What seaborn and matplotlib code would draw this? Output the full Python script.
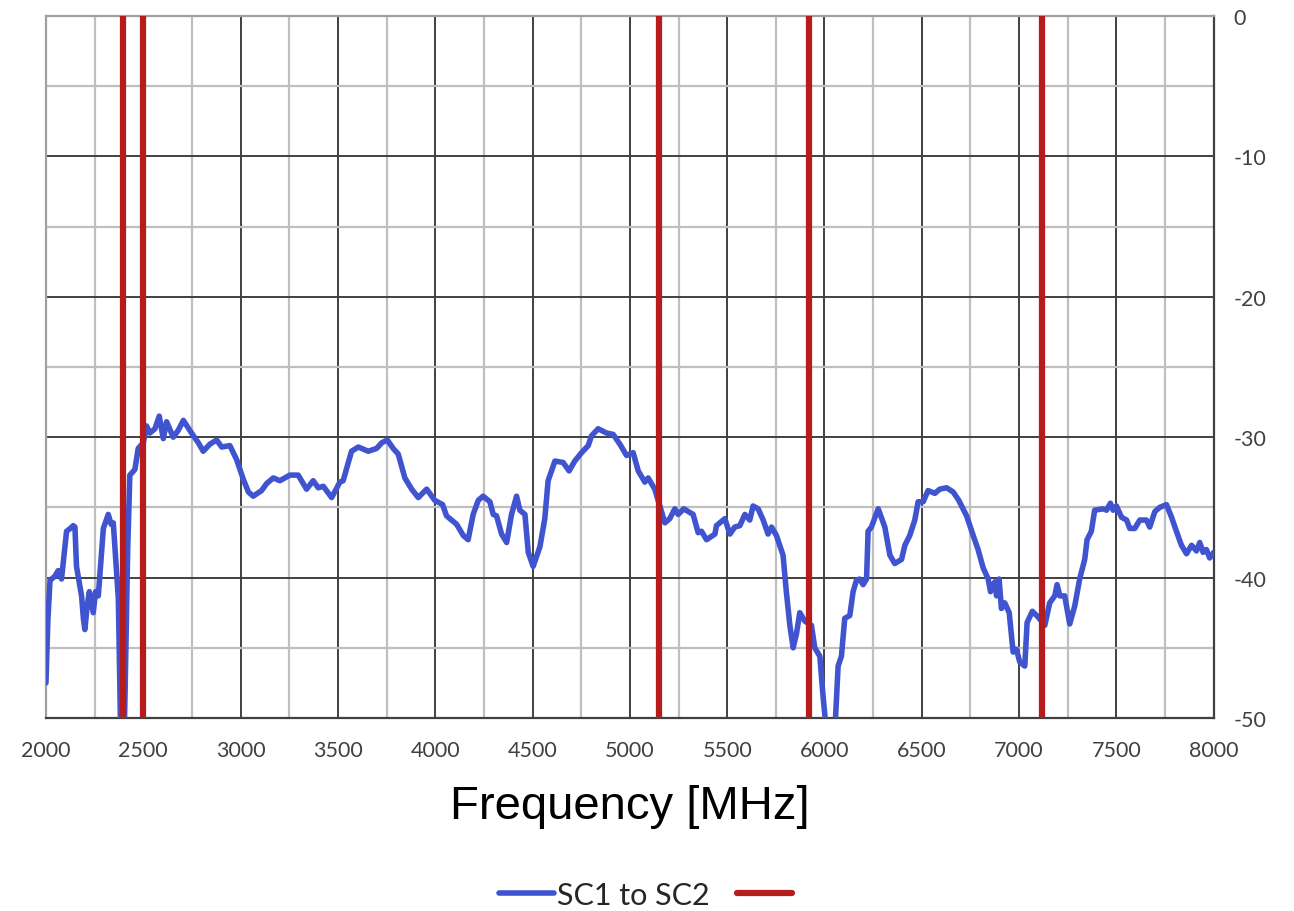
import matplotlib
matplotlib.use('Agg')
import matplotlib.pyplot as plt
import seaborn as sns
import pandas as pd
from matplotlib.ticker import MultipleLocator

# values
freq_mhz = [2000, 2010, 2021, 2046, 2063, 2080, 2106, 2125, 2140, 2149, 2157, 2183, 2193, 2200,
            2212, 2223, 2243, 2255, 2269, 2295, 2320, 2335, 2346, 2372, 2385, 2395, 2406, 2420,
            2431, 2457, 2474, 2500, 2517, 2534, 2560, 2582, 2603, 2620, 2654, 2680, 2706, 2748,
            2783, 2808, 2842, 2877, 2903, 2945, 2980, 3014, 3040, 3065, 3108, 3134, 3168, 3202,
            3253, 3296, 3339, 3373, 3399, 3425, 3468, 3510, 3527, 3570, 3605, 3656, 3699, 3725,
            3754, 3784, 3810, 3844, 3879, 3913, 3956, 3998, 4038, 4058, 4110, 4144, 4169, 4195,
            4221, 4246, 4281, 4298, 4315, 4341, 4367, 4392, 4418, 4435, 4461, 4478, 4503, 4538,
            4563, 4580, 4615, 4657, 4688, 4717, 4752, 4786, 4803, 4837, 4880, 4914, 4949, 4983,
            5017, 5043, 5077, 5094, 5128, 5154, 5180, 5205, 5231, 5248, 5277, 5325, 5351, 5368,
            5394, 5437, 5445, 5488, 5514, 5539, 5565, 5591, 5616, 5633, 5659, 5685, 5710, 5728,
            5753, 5787, 5804, 5822, 5839, 5856, 5873, 5899, 5933, 5950, 5976, 5993, 6010, 6030,
            6053, 6070, 6087, 6104, 6130, 6147, 6164, 6181, 6198, 6216, 6224, 6241, 6276, 6310,
            6336, 6361, 6396, 6413, 6438, 6464, 6481, 6507, 6532, 6567, 6592, 6627, 6661, 6690,
            6730, 6764, 6789, 6815, 6841, 6853, 6875, 6884, 6897, 6909, 6926, 6949, 6969, 6986,
            7003, 7029, 7041, 7068, 7097, 7132, 7157, 7183, 7195, 7209, 7234, 7260, 7286, 7311,
            7337, 7349, 7371, 7388, 7431, 7449, 7469, 7483, 7500, 7526, 7552, 7569, 7594, 7620,
            7654, 7671, 7697, 7722, 7757, 7783, 7808, 7834, 7860, 7886, 7911, 7928, 7945, 7962,
            7979, 8000]
sc1_to_sc2 = [-47.5, -43.0, -40.2, -39.9, -39.5, -40.1, -36.7, -36.5, -36.3, -36.4, -39.2, -41.3, -43.0, -43.7,
              -42.0, -41.0, -42.5, -41.0, -41.3, -36.5, -35.5, -36.2, -36.1, -41.5, -52.0, -56.0, -48.6, -38.0,
              -32.7, -32.3, -30.8, -30.4, -29.2, -29.7, -29.4, -28.5, -30.1, -28.9, -30.0, -29.5, -28.8, -29.7,
              -30.4, -31.0, -30.5, -30.2, -30.7, -30.6, -31.6, -33.0, -33.9, -34.2, -33.8, -33.3, -32.9, -33.1,
              -32.7, -32.7, -33.7, -33.1, -33.6, -33.5, -34.3, -33.2, -33.1, -31.0, -30.7, -31.0, -30.8, -30.4,
              -30.2, -30.8, -31.2, -32.9, -33.7, -34.3, -33.7, -34.5, -34.8, -35.6, -36.2, -37.0, -37.3, -35.5,
              -34.5, -34.2, -34.6, -35.5, -35.6, -36.9, -37.5, -35.5, -34.2, -35.2, -35.5, -38.2, -39.2, -37.8,
              -35.8, -33.1, -31.7, -31.8, -32.4, -31.7, -31.1, -30.6, -29.9, -29.4, -29.7, -29.8, -30.5, -31.3,
              -31.1, -32.4, -33.2, -32.9, -33.7, -34.9, -36.1, -35.8, -35.1, -35.5, -35.1, -35.5, -36.8, -36.7,
              -37.3, -36.9, -36.3, -35.8, -36.9, -36.4, -36.3, -35.5, -35.9, -34.9, -35.1, -35.9, -36.9, -36.4,
              -37.0, -38.4, -41.0, -43.4, -45.0, -44.0, -42.5, -43.1, -43.4, -45.0, -45.6, -48.5, -51.0, -52.0,
              -51.0, -46.3, -45.6, -42.9, -42.7, -41.0, -40.2, -40.1, -40.5, -40.1, -36.7, -36.4, -35.1, -36.4,
              -38.4, -39.0, -38.7, -37.7, -37.0, -35.9, -34.6, -34.6, -33.8, -34.0, -33.7, -33.6, -33.9, -34.5,
              -35.6, -37.0, -38.0, -39.3, -40.1, -41.0, -40.3, -41.3, -40.1, -42.2, -41.8, -42.5, -45.3, -45.1,
              -46.0, -46.3, -43.2, -42.4, -42.8, -43.4, -41.8, -41.3, -40.5, -41.3, -41.3, -43.3, -42.0, -40.1,
              -38.7, -37.3, -36.7, -35.2, -35.1, -35.2, -34.7, -35.2, -34.9, -35.7, -35.9, -36.5, -36.5, -35.9,
              -35.9, -36.4, -35.3, -35.0, -34.8, -35.7, -36.7, -37.7, -38.3, -37.7, -38.1, -37.5, -38.2, -38.0,
              -38.6, -38.2]
band_edges_mhz = [2395, 2500, 5150, 5922, 7120]
x_ticks = list(range(2000, 8001, 500))
y_ticks = list(range(-50, 1, 10))

BLUE = '#4154d0'
RED = '#b71c1c'

sns.set_style('white')
plt.rcParams['font.family'] = ['Lato', 'DejaVu Sans']
plt.rcParams['axes.unicode_minus'] = False

df = pd.DataFrame({'freq': freq_mhz, 'db': sc1_to_sc2})

fig = plt.figure(figsize=(12.94, 9.12), dpi=100)
ax = fig.add_axes([0.0355, 0.2116, 0.9025, 0.7698])

# grid: light minor lines, dark major lines
ax.xaxis.set_major_locator(MultipleLocator(500))
ax.xaxis.set_minor_locator(MultipleLocator(250))
ax.yaxis.set_major_locator(MultipleLocator(10))
ax.yaxis.set_minor_locator(MultipleLocator(5))
ax.grid(which='minor', color='#bfbfbf', linewidth=1.6, zorder=0)
ax.grid(which='major', color='#404040', linewidth=1.4, zorder=0)
ax.set_axisbelow(True)

sns.lineplot(data=df, x='freq', y='db', ax=ax, color=BLUE, linewidth=4.0, zorder=3)
red_handle = None
for f in band_edges_mhz:
    red_handle = ax.axvline(f, color=RED, linewidth=4.5, zorder=4)

ax.set_xlim(2000, 8000)
ax.set_ylim(-50, 0)
ax.set_xticks(x_ticks)
ax.set_yticks(y_ticks)
ax.yaxis.tick_right()
ax.tick_params(axis='both', which='both', length=0, labelsize=15.5, labelcolor='#404040')
ax.tick_params(axis='x', pad=16)
ax.tick_params(axis='y', pad=14)

for side in ['left', 'top']:
    ax.spines[side].set_color('#a0a0a0')
for side in ['right', 'bottom']:
    ax.spines[side].set_color('#404040')
for s in ax.spines.values():
    s.set_linewidth(1.6)

ax.set_ylabel('')
ax.set_xlabel('Frequency [MHz]', fontsize=34, color='black',
              family=['Liberation Sans', 'DejaVu Sans'], labelpad=17)

blue_handle = ax.get_lines()[0]
fig.legend([blue_handle, red_handle], ['SC1 to SC2', ''], loc='center', bbox_to_anchor=(0.5, 0.018),
           ncol=2, frameon=False, fontsize=22, handlelength=1.8, handletextpad=0.1, columnspacing=0.9)

fig.savefig('out.png', dpi=100)
